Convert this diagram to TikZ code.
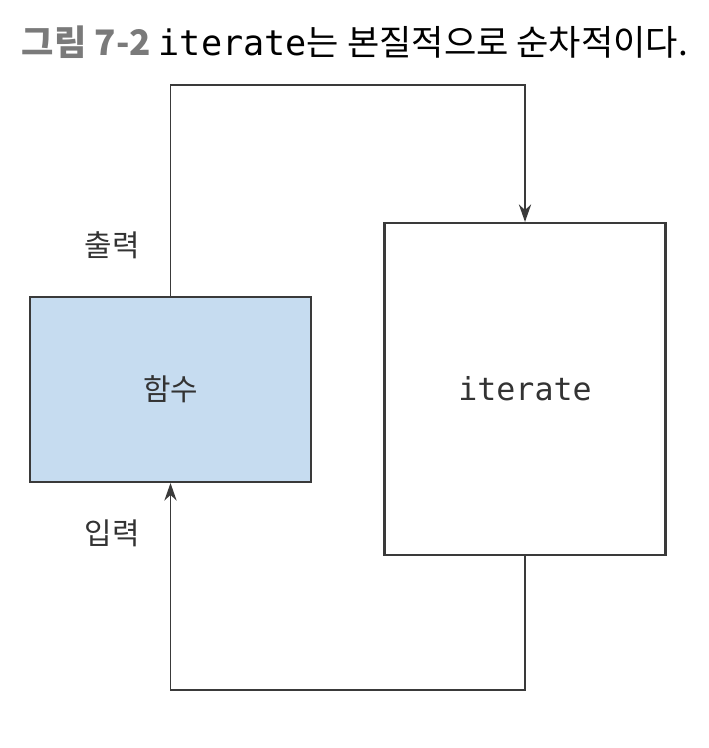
\documentclass[tikz,border=0pt]{standalone}
\usepackage{fontspec}
\setmainfont{Noto Sans CJK KR}
\newfontfamily\krfont{Noto Sans CJK KR}
\newfontfamily\monofont{DejaVu Sans Mono}
\usepackage{tikz}
\usetikzlibrary{arrows.meta}
\definecolor{boxblue}{HTML}{C6DCF0}
\definecolor{linegray}{HTML}{3A3A3A}
\definecolor{titlegray}{HTML}{7A7A7A}

\begin{document}
\begin{tikzpicture}[
  box/.style={draw=linegray, line width=1.2pt, minimum width=5.62cm},
  lbl/.style={text=black!80, font=\krfont\fontsize{17}{20}\selectfont},
  link/.style={draw=linegray, line width=0.9pt}
]
\useasboundingbox (0,0) rectangle (14.16,-14.96);
\node (title) at (7.1,-0.84) {\fontsize{20}{23}\selectfont{\bfseries\color{titlegray}그림 7-2} {\monofont iterate}는 본질적으로 순차적이다.};
\node[box, fill=boxblue, minimum height=3.7cm, lbl] (func) at (3.41,-7.79) {함수};
\node[box, minimum height=6.64cm, lbl, font=\monofont\fontsize{18}{21}\selectfont] (iter) at (10.5,-7.78) {iterate};
\coordinate (top) at (3.41,-1.7);
\coordinate (bottom) at (10.5,-13.8);
\draw[link, ->, >={Stealth[length=10pt,width=7pt]}] (func.north) -- (top) -| (iter.north);
\draw[link, ->, >={Stealth[length=10pt,width=7pt]}] (iter.south) -- (bottom) -| (func.south);
\node[lbl] (out) at (2.24,-4.9) {출력};
\node[lbl] (in) at (2.24,-10.66) {입력};
\end{tikzpicture}
\end{document}
